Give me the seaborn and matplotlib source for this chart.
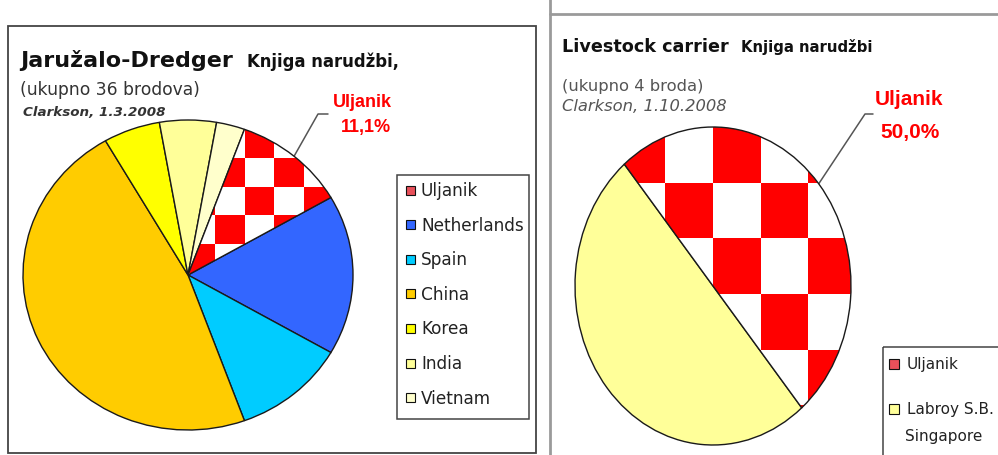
import numpy as np
import matplotlib
matplotlib.use('Agg')
import matplotlib.pyplot as plt
import seaborn as sns
from matplotlib.colors import ListedColormap
from matplotlib.patches import Rectangle
from matplotlib import font_manager

W, H = 998, 456

# order book, number of ships per yard / country
dredger_labels = ['Uljanik', 'Netherlands', 'Spain', 'China', 'Korea', 'India', 'Vietnam']
dredger_ships = [4, 6, 4, 17, 2, 2, 1]
dredger_colors = ['#ffffff', '#3366ff', '#00ccff', '#ffcc00', '#ffff00', '#ffff99', '#ffffcc']

livestock_labels = ['Uljanik', 'Labroy S.B.\nSingapore']
livestock_ships = [2, 2]
livestock_colors = ['#ffffff', '#ffff99']

LEGEND_RED = '#e8505a'

sns.set_style('white')
plt.rcParams['font.family'] = ['DejaVu Sans']
names = {f.name for f in font_manager.fontManager.ttflist}
NARROW = 'Liberation Sans Narrow' in names

fig = plt.figure(figsize=(W / 100, H / 100), dpi=100)
bg = fig.add_axes([0, 0, 1, 1])
bg.set_xlim(0, W)
bg.set_ylim(H, 0)
bg.axis('off')


def pie_axes(cx, cy, rx, ry, m=1.05):
    return fig.add_axes([(cx - m * rx) / W, (H - cy - m * ry) / H, 2 * m * rx / W, 2 * m * ry / H])


def draw_pie(ax, values, colors, start, grid, m=1.05):
    wedges, _ = ax.pie(values, colors=sns.color_palette(colors), startangle=start, counterclock=False,
                       wedgeprops=dict(edgecolor='#1a1a1a', linewidth=1.0))
    # red/white checkerboard for the Uljanik slice
    x0, y0, sx, sy = grid
    n = 12
    k = np.arange(2 * n)
    board = ((k[:, None] + k[None, :]) % 2 == 0).astype(int)
    im = ax.imshow(board, cmap=ListedColormap(['#ffffff', '#ff0000']), origin='lower',
                   interpolation='nearest', aspect='auto', zorder=2,
                   extent=(x0 - n * sx, x0 + n * sx, y0 - n * sy, y0 + n * sy))
    uljanik = wedges[0]
    uljanik.set_facecolor('none')
    uljanik.set_zorder(3)
    im.set_clip_path(uljanik)
    ax.set_aspect('auto')
    ax.set_xlim(-m, m)
    ax.set_ylim(-m, m)
    ax.axis('off')
    return wedges


def leader(wedge, cx, cy, rx, ry, knee, end):
    a = np.deg2rad((wedge.theta1 + wedge.theta2) / 2)
    px, py = cx + rx * np.cos(a), cy - ry * np.sin(a)
    bg.plot([px, knee[0], end[0]], [py, knee[1], end[1]], color='#555555', lw=1.1)


def legend_box(box, labels, colors, mx, tx, y0, step, size, msize=9, line=27):
    bg.add_patch(Rectangle(box[:2], box[2], box[3], fill=False, edgecolor='#444444', lw=1.1))
    for i, (lab, col) in enumerate(zip(labels, colors)):
        yc = y0 + i * step
        bg.add_patch(Rectangle((mx, yc - msize / 2), msize, msize, facecolor=col,
                               edgecolor='#111111', lw=0.8))
        for j, part in enumerate(lab.split('\n')):
            bg.text(tx if j == 0 else tx - 2, yc + j * line, part, fontsize=size,
                    va='center', ha='left', color='#222222')


def pct(values, i):
    return f'{100 * values[i] / sum(values):.1f}%'.replace('.', ',')


# ---- left panel: dredgers ----
bg.add_patch(Rectangle((8, 27), 528, 427, fill=False, edgecolor='#444444', lw=1.3))
L = dict(cx=188, cy=276, rx=165, ry=155)
axl = pie_axes(**L)
wl = draw_pie(axl, dredger_ships, dredger_colors, 70, (0.162, 0.198, 0.179, 0.186))
leader(wl[0], L['cx'], L['cy'], L['rx'], L['ry'], (318, 115), (328, 115))

bg.text(20, 67, 'Jaružalo-Dredger', fontsize=16, fontweight='bold', color='#111111', va='baseline')
bg.text(247, 67, 'Knjiga narudžbi,', fontsize=11.9, fontweight='bold', color='#111111', va='baseline')
bg.text(20, 90, f'(ukupno {sum(dredger_ships)} brodova)', fontsize=12.3, color='#333333', va='center')
bg.text(23, 113, 'Clarkson, 1.3.2008', fontsize=9.7, fontweight='bold', fontstyle='italic',
        color='#333333', va='center')
bg.text(362, 103, dredger_labels[0], fontsize=13, fontweight='bold', color='#ff0000',
        family='Liberation Sans', ha='center', va='center')
bg.text(366, 128, pct(dredger_ships, 0), fontsize=13, fontweight='bold', color='#ff0000',
        family='Liberation Sans', ha='center', va='center')

legend_box((397, 176, 132, 244), dredger_labels, [LEGEND_RED] + dredger_colors[1:],
           406, 421, 191, 34.6, 12.2)

# ---- right panel: livestock carriers ----
bg.plot([550, 550], [0, H], color='#9a9a9a', lw=2)
bg.plot([550, W], [15, 15], color='#9a9a9a', lw=2)
R = dict(cx=713, cy=287, rx=138, ry=159)
axr = pie_axes(**R)
wr = draw_pie(axr, livestock_ships, livestock_colors, 130, (0.0, -0.05, 0.345, 0.35))
leader(wr[0], R['cx'], R['cy'], R['rx'], R['ry'], (865, 115), (873, 115))

bg.text(562, 52, 'Livestock carrier', fontsize=12.7, fontweight='bold', color='#111111', va='baseline')
if NARROW:
    bg.text(741, 52, 'Knjiga narudžbi', fontsize=13.5, fontweight='bold', color='#111111',
            family='Liberation Sans Narrow', va='baseline')
else:
    bg.text(741, 52, 'Knjiga narudžbi', fontsize=10.7, fontweight='bold', color='#111111', va='baseline')
bg.text(562, 86, f'(ukupno {sum(livestock_ships)} broda)', fontsize=11.8, color='#555555', va='center')
bg.text(562, 107, 'Clarkson, 1.10.2008', fontsize=11.8, fontstyle='italic', color='#555555', va='center')
bg.text(909, 100, livestock_labels[0], fontsize=15, fontweight='bold', color='#ff0000',
        family='Liberation Sans', ha='center', va='center')
bg.text(910, 133, pct(livestock_ships, 0), fontsize=15, fontweight='bold', color='#ff0000',
        family='Liberation Sans', ha='center', va='center')

legend_box((883, 348, 130, 110), livestock_labels, [LEGEND_RED] + livestock_colors[1:],
           889, 907, 365, 45, 11, msize=10)

fig.savefig('out.png', dpi=100)
